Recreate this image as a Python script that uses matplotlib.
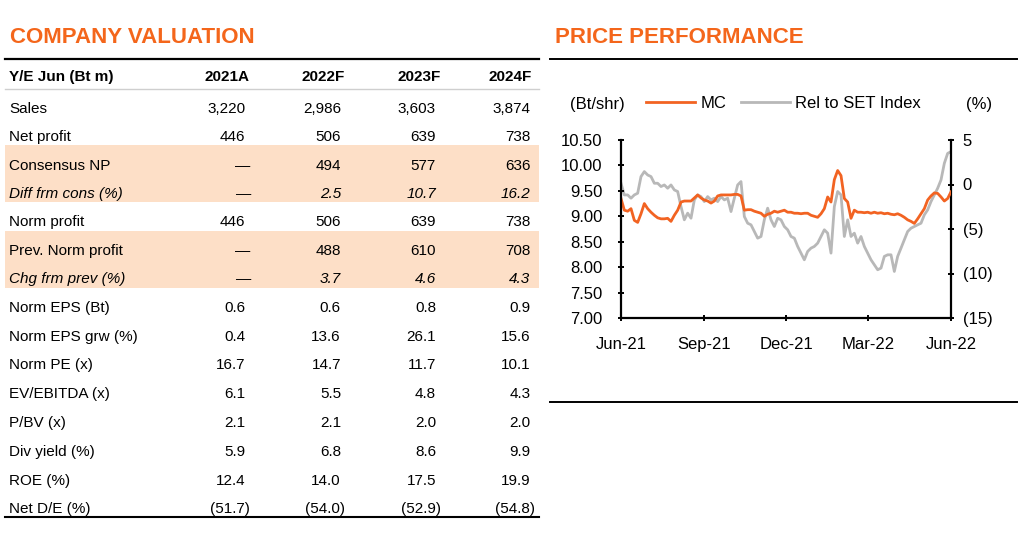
import matplotlib
matplotlib.use("Agg")
import matplotlib.pyplot as plt
import matplotlib.dates as mdates
import matplotlib.patches as mpatches
from matplotlib.lines import Line2D
from matplotlib.ticker import FuncFormatter, MultipleLocator
import pandas as pd

plt.rcParams['font.family'] = ['Liberation Sans', 'DejaVu Sans']

# ---------------- data ----------------
row_labels = ["Sales", "Net profit", "Consensus NP", "Diff frm cons (%)", "Norm profit",
              "Prev. Norm profit", "Chg frm prev (%)", "Norm EPS (Bt)", "Norm EPS grw (%)",
              "Norm PE (x)", "EV/EBITDA (x)", "P/BV (x)", "Div yield (%)", "ROE (%)", "Net D/E (%)"]
col_headers = ["2021A", "2022F", "2023F", "2024F"]
y2021A = ["3,220", "446", "\u2014", "\u2014", "446", "\u2014", "\u2014", "0.6", "0.4", "16.7",
          "6.1", "2.1", "5.9", "12.4", "(51.7)"]
y2022F = ["2,986", "506", "494", "2.5", "506", "488", "3.7", "0.6", "13.6", "14.7",
          "5.5", "2.1", "6.8", "14.0", "(54.0)"]
y2023F = ["3,603", "639", "577", "10.7", "639", "610", "4.6", "0.8", "26.1", "11.7",
          "4.8", "2.0", "8.6", "17.5", "(52.9)"]
y2024F = ["3,874", "738", "636", "16.2", "738", "708", "4.3", "0.9", "15.6", "10.1",
          "4.3", "2.0", "9.9", "19.9", "(54.8)"]

mc_price = [9.35, 9.12, 9.10, 9.15, 8.92, 8.88, 9.05, 9.25, 9.15, 9.08,
            9.02, 8.97, 8.95, 8.95, 8.96, 8.90, 9.02, 9.12, 9.28, 9.30,
            9.30, 9.30, 9.36, 9.42, 9.36, 9.32, 9.30, 9.26, 9.30, 9.40,
            9.42, 9.42, 9.42, 9.42, 9.43, 9.43, 9.40, 9.12, 9.13, 9.13,
            9.10, 9.08, 9.06, 9.00, 9.04, 9.06, 9.10, 9.08, 9.10, 9.12,
            9.08, 9.08, 9.06, 9.06, 9.05, 9.06, 9.06, 9.02, 9.00, 8.98,
            9.05, 9.15, 9.38, 9.28, 9.72, 9.90, 9.80, 9.35, 9.28, 8.96,
            9.12, 9.08, 9.08, 9.07, 9.08, 9.06, 9.08, 9.06, 9.07, 9.05,
            9.06, 9.04, 9.03, 9.05, 9.02, 8.98, 8.93, 8.90, 8.86, 8.95,
            9.05, 9.15, 9.32, 9.40, 9.46, 9.45, 9.38, 9.30, 9.35, 9.48]

rel_set = [0.14, -1.17, -1.17, -1.54, -1.17, -0.98, 0.89, 1.45, 1.07, 0.89,
           0.14, 0.14, -0.23, -0.05, -0.42, -0.05, -0.61, -0.79, -2.48, -3.97,
           -3.22, -3.79, -1.73, -1.17, -1.36, -1.92, -1.36, -1.73, -1.54, -1.92,
           -1.36, -1.73, -1.54, -3.04, -1.54, -0.05, 0.33, -3.60, -4.35, -4.53,
           -5.28, -6.03, -5.84, -3.97, -2.66, -3.97, -4.72, -3.79, -3.97, -4.72,
           -5.09, -5.84, -6.03, -6.96, -7.71, -8.46, -7.52, -7.15, -6.96, -6.59,
           -5.84, -5.09, -5.47, -7.71, -2.48, -0.79, -1.17, -5.84, -3.97, -5.84,
           -5.47, -6.59, -5.84, -6.96, -7.71, -8.46, -9.02, -9.58, -9.39, -8.08,
           -7.90, -7.90, -9.77, -8.08, -7.15, -6.21, -5.28, -4.91, -4.72, -4.53,
           -4.35, -3.41, -2.85, -1.92, -1.17, -0.42, 0.51, 2.38, 3.50, 3.69]

start_date, end_date = "2021-06-01", "2022-06-01"
dates = pd.date_range(start_date, end_date, periods=len(mc_price))

# ---------------- styles ----------------
ORANGE = "#F4661B"
LINE_ORANGE = "#F26322"
GRAY = "#B8B8B8"
PEACH = "#FDDFC7"

W, H = 1024, 539
fig = plt.figure(figsize=(W / 100, H / 100), dpi=100)


def fx(x):
    return x / W


def fy(y):
    return 1 - y / H


BODY = 11
CAP = 0.716 * BODY * 100 / 72  # cap height px
TITLE = 16
TCAP = 0.716 * TITLE * 100 / 72

# ---------------- left: table ----------------
fig.text(fx(10), fy(35 + TCAP / 2), "COMPANY VALUATION", color=ORANGE,
         fontsize=TITLE, fontweight="bold", ha="left", va="baseline")

row_y = [107.5, 136, 164.5, 192.5, 221, 249.5, 277.5, 307, 335.5, 364, 393, 422, 451, 479.5, 508]
col_right = [245.5, 341, 436, 530.5]
hdr_right = [249.5, 345, 441, 532]
italic_rows = {3, 6}
shade_boxes = [(145, 202), (231, 288)]

for (y0, y1) in shade_boxes:
    fig.patches.append(mpatches.Rectangle((fx(5), fy(y1)), fx(539) - fx(5), fy(y0) - fy(y1),
                                          transform=fig.transFigure, facecolor=PEACH,
                                          edgecolor="none", zorder=0))

fig.add_artist(Line2D([fx(5), fx(539)], [fy(59), fy(59)], color="black", lw=1.6,
                      transform=fig.transFigure))
fig.add_artist(Line2D([fx(5), fx(539)], [fy(88.5), fy(88.5)], color="#CFCFCF", lw=1.0,
                      transform=fig.transFigure))
fig.add_artist(Line2D([fx(5), fx(539)], [fy(517), fy(517)], color="black", lw=1.5,
                      transform=fig.transFigure))

hy = 76
fig.text(fx(9), fy(hy + CAP / 2), "Y/E Jun (Bt m)", fontsize=BODY, fontweight="bold",
         ha="left", va="baseline")
for xr, h in zip(hdr_right, col_headers):
    fig.text(fx(xr), fy(hy + CAP / 2), h, fontsize=BODY, fontweight="bold",
             ha="right", va="baseline")

cols = [y2021A, y2022F, y2023F, y2024F]
for i, (lab, yc) in enumerate(zip(row_labels, row_y)):
    style = "italic" if i in italic_rows else "normal"
    fig.text(fx(9), fy(yc + CAP / 2), lab, fontsize=BODY, style=style,
             ha="left", va="baseline")
    for xr, col in zip(col_right, cols):
        v = col[i]
        off = 4.5 if (v.endswith(")") or v == "\u2014") else 0
        fig.text(fx(xr + off), fy(yc + CAP / 2), v, fontsize=BODY, style=style,
                 ha="right", va="baseline")

# ---------------- right: price performance ----------------
fig.text(fx(555), fy(35 + TCAP / 2), "PRICE PERFORMANCE", color=ORANGE,
         fontsize=TITLE, fontweight="bold", ha="left", va="baseline")
fig.add_artist(Line2D([fx(550), fx(1017)], [fy(59), fy(59)], color="black", lw=1.4,
                      transform=fig.transFigure))
fig.add_artist(Line2D([fx(550), fx(1017)], [fy(402), fy(402)], color="black", lw=1.4,
                      transform=fig.transFigure))

ax = fig.add_axes([fx(621), fy(318), (951 - 621) / W, (318 - 140) / H])
ax2 = ax.twinx()
ax.set_zorder(2)
ax2.set_zorder(1)
ax.patch.set_visible(False)

l_rel, = ax2.plot(dates, rel_set, color=GRAY, lw=2.0, label="Rel to SET Index")
l_mc, = ax.plot(dates, mc_price, color=LINE_ORANGE, lw=2.0, label="MC")

ax.set_xlim(pd.Timestamp(start_date), pd.Timestamp(end_date))
ax.set_ylim(7.0, 10.5)
ax.yaxis.set_major_locator(MultipleLocator(0.5))
ax.yaxis.set_major_formatter(FuncFormatter(lambda v, p: f"{v:.2f}"))
ax2.set_ylim(-15, 5)
ax2.yaxis.set_major_locator(MultipleLocator(5))
ax2.yaxis.set_major_formatter(FuncFormatter(
    lambda v, p: f"({abs(int(round(v)))})" if v < 0 else f"{int(round(v))}"))

ax.xaxis.set_major_locator(mdates.MonthLocator(bymonth=[3, 6, 9, 12]))
ax.xaxis.set_major_formatter(mdates.DateFormatter("%b-%y"))

for a in (ax, ax2):
    a.spines["top"].set_visible(False)
    for s in a.spines.values():
        s.set_linewidth(1.6)
ax.spines["right"].set_visible(False)
ax2.spines["left"].set_visible(False)
ax2.spines["bottom"].set_visible(False)

ax.tick_params(axis="y", direction="inout", length=5, width=1.4, labelsize=12, pad=11)
ax.tick_params(axis="x", direction="inout", length=5, width=1.4, labelsize=12, pad=11)
ax2.tick_params(axis="y", direction="inout", length=5, width=1.4, labelsize=12, pad=6)

# legend row
fig.text(fx(570), fy(103 + 0.716 * 16.7 / 2), "(Bt/shr)", fontsize=12, ha="left", va="baseline")
fig.text(fx(966), fy(103 + 0.716 * 16.7 / 2), "(%)", fontsize=12, ha="left", va="baseline")
fig.legend(handles=[l_mc, l_rel], loc="center left", bbox_to_anchor=(fx(646), fy(103)),
           bbox_transform=fig.transFigure, ncol=2, frameon=False, fontsize=12,
           handlelength=2.95, handletextpad=0.3, columnspacing=0.9, borderpad=0,
           borderaxespad=0)

fig.savefig("out.png", dpi=100)
